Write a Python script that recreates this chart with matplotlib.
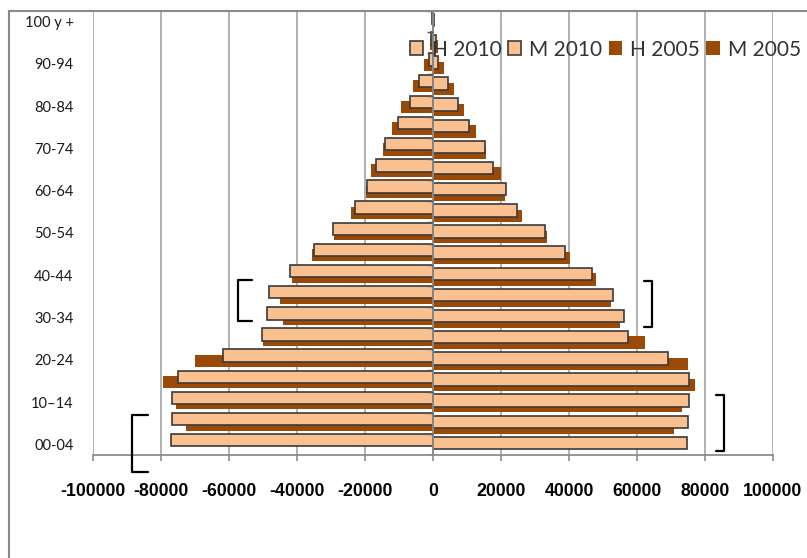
import numpy as np
import matplotlib
matplotlib.use("Agg")
import matplotlib.pyplot as plt
from matplotlib.patches import Patch
from matplotlib.lines import Line2D

# ---------------- data ----------------
age_groups = ["00-04", "05-09", "10–14", "15-19", "20-24", "25-29", "30-34", "35-39",
              "40-44", "45-49", "50-54", "55-59", "60-64", "65-69", "70-74", "75-79",
              "80-84", "85-89", "90-94", "95-99", "100 y +"]

h_2010 = [-77150, -76850, -76760, -75090, -61670, -50290, -48920, -48330, -42100, -34900,
          -29400, -22900, -19500, -16760, -14000, -10200, -6760, -4020, -1180, -590, -250]
m_2010 = [74610, 74900, 75200, 75200, 69110, 57440, 56270, 52840, 46670, 38820,
          32940, 24790, 21370, 17740, 15290, 10680, 7260, 4510, 1370, 780, 400]
h_2005 = [None, -72700, -75580, -79300, -70090, -50100, -44020, -45000, -41570, -35680,
          -29120, -24020, -19700, -18230, -14800, -12000, -9410, -5790, -2650, -880, -200]
m_2005 = [None, 70970, 73320, 77150, 75090, 62440, 55090, 52350, 47850, 40380,
          33530, 26260, 21180, 19900, 15590, 12560, 9120, 6270, 3330, 1570, 300]

series_names = ["H 2010", "M 2010", "H 2005", "M 2005"]
x_ticks = [-100000, -80000, -60000, -40000, -20000, 0, 20000, 40000, 60000, 80000, 100000]

# ---------------- style ----------------
LIGHT = "#FAC090"
BROWN = "#9A4A06"
EDGE = "#3A3A3A"
GRID = "#ABABAB"
AXIS = "#8C8C8C"

W, H = 807, 558
fig = plt.figure(figsize=(W / 100, H / 100), dpi=100)
ax = fig.add_axes([93 / W, (H - 455) / H, 680 / W, 444 / H])

y = np.arange(len(age_groups))
bar_h = 0.59
offs = {"H 2010": 0.20, "M 2010": 0.07, "H 2005": -0.05, "M 2005": -0.19}

def arr(v):
    return np.array([np.nan if a is None else a for a in v], dtype=float)

ax.barh(y + offs["H 2005"], arr(h_2005), height=bar_h, color=BROWN, lw=0, zorder=2)
ax.barh(y + offs["M 2005"], arr(m_2005), height=bar_h, color=BROWN, lw=0, zorder=2)
ax.barh(y + offs["H 2010"], arr(h_2010), height=bar_h, color=LIGHT, edgecolor=EDGE, lw=1.2, zorder=3)
ax.barh(y + offs["M 2010"], arr(m_2010), height=bar_h, color=LIGHT, edgecolor=EDGE, lw=1.2, zorder=3)

ax.set_xlim(-100000, 100000)
ax.set_ylim(-0.5, len(age_groups) - 0.5)

# vertical axis line at zero with category-boundary ticks
ax.axvline(0, color=AXIS, lw=1.3, zorder=5)
bounds = np.arange(len(age_groups) + 1) - 0.5
ax.hlines(bounds, -1900, 0, color="#555555", lw=1.0, zorder=5)

# grid
ax.set_xticks(x_ticks)
ax.set_xticklabels([str(v) for v in x_ticks],
                   fontfamily=["Liberation Sans", "DejaVu Sans"],
                   fontweight="bold", fontsize=12.7)
ax.grid(axis="x", color=GRID, lw=1.3, zorder=0)
ax.set_axisbelow(True)

ax.set_yticks(y[::2])
ax.set_yticklabels(age_groups[::2], fontfamily=["Lato", "DejaVu Sans"], fontsize=10.5,
                   color="#1A1A1A")
ax.tick_params(axis="y", length=0, pad=14)
ax.tick_params(axis="x", length=4.3, width=1.2, color=AXIS, pad=16, direction="out")

for s in ["top", "right", "left"]:
    ax.spines[s].set_visible(False)
ax.spines["bottom"].set_color(AXIS)
ax.spines["bottom"].set_linewidth(1.3)

# legend
handles = [Patch(facecolor=LIGHT, edgecolor=EDGE, lw=1.2),
           Patch(facecolor=LIGHT, edgecolor=EDGE, lw=1.2),
           Patch(facecolor=BROWN, edgecolor=BROWN, lw=0),
           Patch(facecolor=BROWN, edgecolor=BROWN, lw=0)]
leg = fig.legend(handles, series_names, loc="center left",
                 bbox_to_anchor=(410 / W, 1 - 49.5 / H), ncol=4, frameon=False,
                 prop={"family": ["Lato", "DejaVu Sans"], "size": 15},
                 handlelength=0.64, handleheight=0.64, handletextpad=0.4,
                 columnspacing=0.3, borderpad=0, borderaxespad=0)
for t in leg.get_texts():
    t.set_color("#333333")

# hand-drawn brackets (x value, category position)
brackets = [
    (-88500, -83800, 1.39, -1.30),
    (-57350, -53230, 7.78, 5.84),
    (64400, 62060, 7.73, 5.55),
    (85580, 83230, 2.34, -0.31),
]
for xv, xh, yt, yb in brackets:
    ax.plot([xh, xv, xv, xh], [yt, yt, yb, yb], color="black", lw=1.6,
            solid_joinstyle="round", solid_capstyle="round", clip_on=False, zorder=6)

# chart area border
fig.add_artist(Line2D([9 / W, 9 / W], [0, 1 - 11 / H], transform=fig.transFigure,
                      color="#8A8A8A", lw=1.5))
fig.add_artist(Line2D([9 / W, 1], [1 - 11 / H, 1 - 11 / H], transform=fig.transFigure,
                      color="#8A8A8A", lw=1.5))

fig.savefig("out.png", dpi=100)
